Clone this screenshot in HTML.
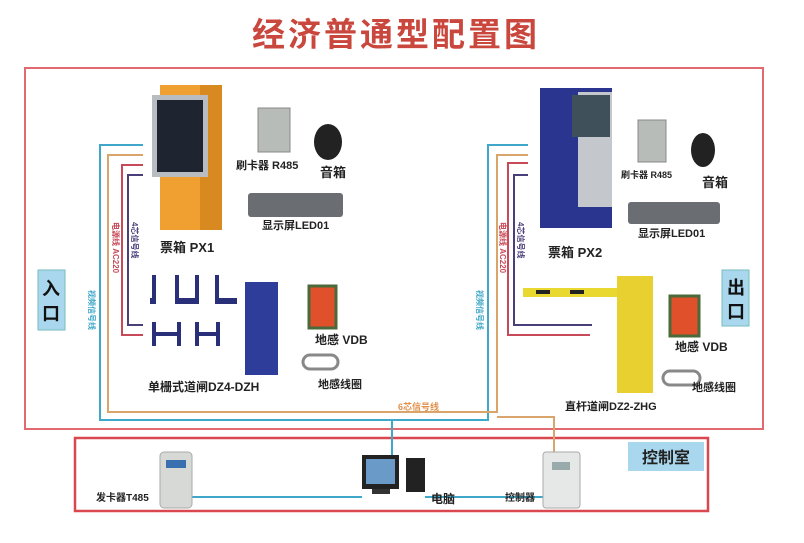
<!DOCTYPE html>
<html><head><meta charset="utf-8"><style>
body{margin:0;background:#fff}
svg{display:block}
text{font-family:"Liberation Sans","Noto Sans CJK SC",sans-serif;font-weight:bold}
</style></head><body>
<svg width="804" height="543" viewBox="0 0 804 543">
<rect width="804" height="543" fill="#fff"/>
<text x="396" y="46" font-size="33" fill="#c9473d" text-anchor="middle" font-weight="normal" letter-spacing="3">经济普通型配置图</text>
<rect x="25" y="68" width="738" height="361" fill="none" stroke="#e06a70" stroke-width="2"/>
<rect x="75" y="438" width="633" height="73" fill="none" stroke="#d9474f" stroke-width="2.5"/>
<rect x="628" y="442" width="76" height="29" fill="#a9d8ee"/>
<text x="666" y="463" font-size="16" fill="#222" text-anchor="middle">控制室</text>
<rect x="38" y="270" width="27" height="60" fill="#a9d8ee" stroke="#7bb" stroke-width="1"/>
<text x="51" y="295" font-size="18" fill="#111" text-anchor="middle">入</text>
<text x="51" y="320" font-size="18" fill="#111" text-anchor="middle">口</text>
<rect x="722" y="270" width="27" height="56" fill="#a9d8ee" stroke="#7bb" stroke-width="1"/>
<text x="736" y="294" font-size="18" fill="#111" text-anchor="middle">出</text>
<text x="736" y="318" font-size="18" fill="#111" text-anchor="middle">口</text>

<!-- left wires -->
<g fill="none" stroke-width="2">
<path d="M143 145 H100 V420 H488 V145 H528" stroke="#3fa7c9"/>
<path d="M143 155 H108 V412 H497 V155 H528" stroke="#d9a56a"/>
<path d="M143 165 H122 V335 H143" stroke="#c84a58"/>
<path d="M143 175 H128 V325 H143" stroke="#4b3f7a"/>
<path d="M528 163 H508 V335 H590" stroke="#c84a58"/>
<path d="M528 175 H514 V325 H592" stroke="#4b3f7a"/>
<path d="M392 420 V468" stroke="#3fa7c9"/>
<path d="M497 417 H554 V457" stroke="#d9a56a"/>
<path d="M192 497 H362 M425 497 H543" stroke="#3fa7c9"/>
</g>
<g font-size="8" font-weight="normal">
<text transform="translate(89,290) rotate(90)" fill="#3fa7c9">视频信号线</text>
<text transform="translate(113,222) rotate(90)" fill="#c84a58">电源线 AC220</text>
<text transform="translate(132,222) rotate(90)" fill="#4b3f7a">4芯信号线</text>
<text transform="translate(477,290) rotate(90)" fill="#3fa7c9">视频信号线</text>
<text transform="translate(500,222) rotate(90)" fill="#c84a58">电源线 AC220</text>
<text transform="translate(518,222) rotate(90)" fill="#4b3f7a">4芯信号线</text>
<text x="398" y="410" fill="#e0904a" font-size="9">6芯信号线</text>
</g>

<!-- PX1 -->
<rect x="160" y="85" width="62" height="145" fill="#f0a030"/>
<rect x="200" y="85" width="22" height="145" fill="#d88a20"/>
<rect x="152" y="95" width="56" height="82" fill="#b9bcc0"/>
<rect x="157" y="100" width="46" height="72" fill="#1e2530"/>
<text x="160" y="252" font-size="13" fill="#222">票箱 PX1</text>
<rect x="258" y="108" width="32" height="44" fill="#b8bcb8" stroke="#888"/>
<text x="236" y="169" font-size="11" fill="#222">刷卡器 R485</text>
<ellipse cx="328" cy="142" rx="14" ry="18" fill="#222"/>
<text x="320" y="177" font-size="13" fill="#222">音箱</text>
<rect x="248" y="193" width="95" height="24" rx="3" fill="#6a6e72"/>
<text x="262" y="229" font-size="11" fill="#222">显示屏LED01</text>
<!-- gates left -->
<g fill="#2a2f7a">
<rect x="152" y="275" width="4" height="28"/><rect x="150" y="298" width="6" height="6"/>
<rect x="175" y="275" width="4" height="28"/><rect x="175" y="298" width="24" height="6"/><rect x="195" y="275" width="4" height="28"/>
<rect x="215" y="275" width="4" height="28"/><rect x="215" y="298" width="22" height="6"/>
<rect x="152" y="322" width="4" height="24"/><rect x="152" y="332" width="28" height="4"/><rect x="177" y="322" width="4" height="24"/>
<rect x="195" y="322" width="4" height="24"/><rect x="195" y="332" width="24" height="4"/><rect x="216" y="322" width="4" height="24"/>
</g>
<rect x="245" y="282" width="33" height="93" fill="#2f3d9a"/>
<text x="148" y="391" font-size="12" fill="#222">单栅式道闸DZ4-DZH</text>
<rect x="309" y="286" width="27" height="42" fill="#e0502a" stroke="#4a6a3a" stroke-width="3"/>
<text x="315" y="344" font-size="12" fill="#222">地感 VDB</text>
<rect x="303" y="355" width="35" height="14" rx="7" fill="none" stroke="#888" stroke-width="3"/>
<text x="318" y="388" font-size="11" fill="#222">地感线圈</text>

<!-- PX2 -->
<rect x="540" y="88" width="72" height="140" fill="#2a3590"/>
<rect x="578" y="92" width="34" height="115" fill="#c4c7cc"/>
<rect x="572" y="95" width="38" height="42" fill="#40505a"/>
<text x="548" y="257" font-size="13" fill="#222">票箱 PX2</text>
<rect x="638" y="120" width="28" height="42" fill="#b8bcb8" stroke="#888"/>
<text x="621" y="178" font-size="9" fill="#222">刷卡器 R485</text>
<ellipse cx="703" cy="150" rx="12" ry="17" fill="#222"/>
<text x="702" y="187" font-size="13" fill="#222">音箱</text>
<rect x="628" y="202" width="92" height="22" rx="3" fill="#6a6e72"/>
<text x="638" y="237" font-size="11" fill="#222">显示屏LED01</text>
<rect x="523" y="288" width="97" height="9" fill="#e8d830"/>
<rect x="536" y="290" width="14" height="4" fill="#222"/><rect x="570" y="290" width="14" height="4" fill="#222"/>
<rect x="617" y="276" width="36" height="117" fill="#e8d030"/>
<text x="565" y="410" font-size="11" fill="#222">直杆道闸DZ2-ZHG</text>
<rect x="670" y="296" width="29" height="40" fill="#e0502a" stroke="#4a6a3a" stroke-width="3"/>
<text x="675" y="351" font-size="12" fill="#222">地感 VDB</text>
<rect x="663" y="371" width="37" height="14" rx="7" fill="none" stroke="#888" stroke-width="3"/>
<text x="692" y="391" font-size="11" fill="#222">地感线圈</text>

<!-- bottom devices -->
<rect x="160" y="452" width="32" height="56" rx="4" fill="#d6d9d6" stroke="#aaa"/>
<rect x="166" y="460" width="20" height="8" fill="#3a70b0"/>
<text x="96" y="501" font-size="10" fill="#222">发卡器T485</text>
<rect x="362" y="455" width="37" height="34" fill="#222"/>
<rect x="366" y="459" width="29" height="25" fill="#6a9ac8"/>
<rect x="372" y="489" width="18" height="5" fill="#333"/>
<rect x="406" y="458" width="19" height="34" fill="#222"/>
<text x="431" y="503" font-size="12" fill="#222">电脑</text>
<rect x="543" y="452" width="37" height="56" rx="3" fill="#e6e8e8" stroke="#aaa"/>
<rect x="552" y="462" width="18" height="8" fill="#9aa"/>
<text x="505" y="501" font-size="10" fill="#222">控制器</text>
</svg>
</body></html>
